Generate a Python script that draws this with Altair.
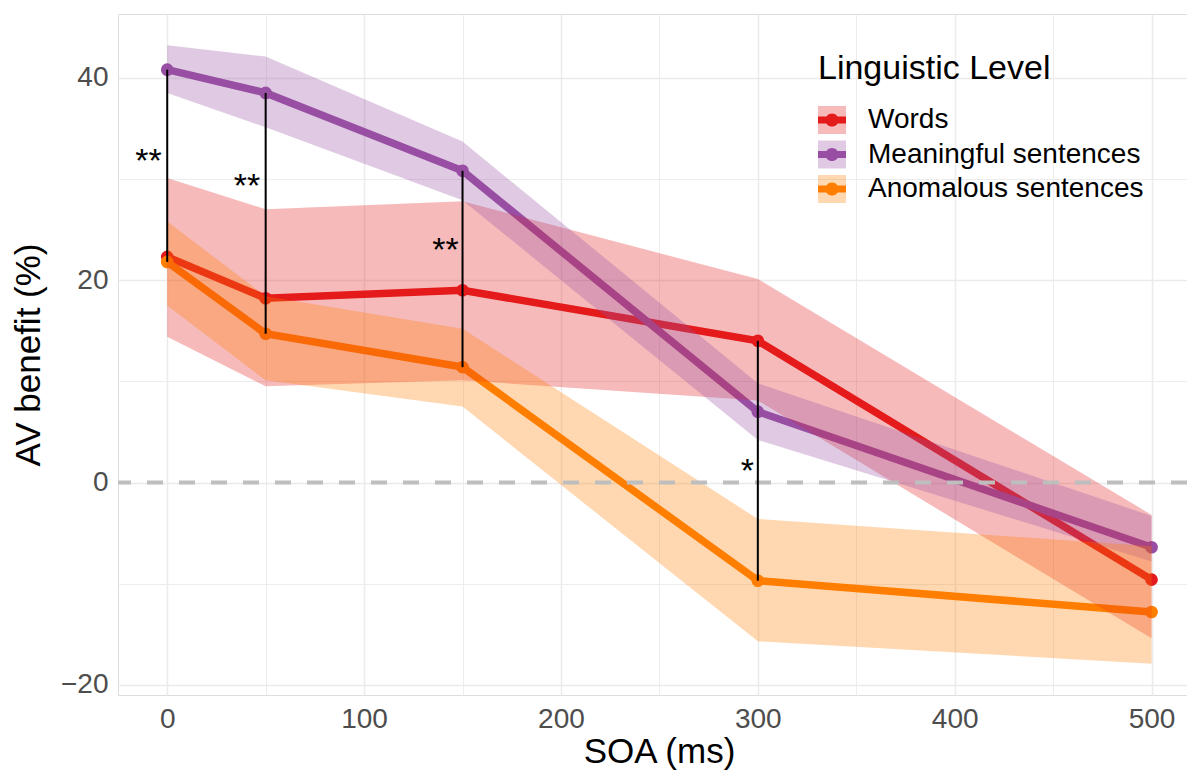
import altair as alt
import pandas as pd

# ---- data ----
levels = ["Words", "Meaningful sentences", "Anomalous sentences"]
colors = ["#E41A1C", "#984EA3", "#FF7F00"]
soa = [0, 50, 150, 300, 500]

words_mean = [22.3, 18.2, 19.0, 14.0, -9.6]
words_lo = [14.4, 9.5, 10.1, 8.1, -15.4]
words_hi = [30.1, 27.0, 27.8, 20.1, -3.2]

mean_mean = [40.8, 38.5, 30.8, 7.0, -6.4]
mean_lo = [38.5, 35.1, 27.9, 4.2, -7.8]
mean_hi = [43.2, 42.1, 33.7, 9.8, -3.3]

anom_mean = [21.8, 14.7, 11.4, -9.7, -12.8]
anom_lo = [17.5, 10.1, 7.5, -15.7, -17.9]
anom_hi = [25.8, 18.4, 15.2, -3.6, -6.3]

sig_x = [0, 50, 150, 300]
sig_top = [40.8, 38.5, 30.8, 14.0]
sig_bottom = [21.8, 14.7, 11.4, -9.7]

star_x = [-9.5, 40.5, 141.4, 294.7]
star_y = [32.6, 30.1, 23.8, 1.9]
star_label = ["**", "**", "**", "*"]

x_ticks = [0, 50, 100, 150, 200, 250, 300, 350, 400, 450, 500]
y_ticks = [-20, -10, 0, 10, 20, 30, 40]

# ---- tables ----
rows = []
for lev, col, m, lo, hi in [
    (levels[0], colors[0], words_mean, words_lo, words_hi),
    (levels[1], colors[1], mean_mean, mean_lo, mean_hi),
    (levels[2], colors[2], anom_mean, anom_lo, anom_hi),
]:
    for s, a, b, c in zip(soa, m, lo, hi):
        rows.append({"level": lev, "col": col, "soa": s, "mean": a, "lo": b, "hi": c})
df = pd.DataFrame(rows)
sig_df = pd.DataFrame({"soa": sig_x, "top": sig_top, "bottom": sig_bottom})
star_df = pd.DataFrame({"soa": star_x, "y": star_y, "label": star_label})
zero_df = pd.DataFrame({"y": [0]})

xscale = alt.Scale(domain=[-25, 518], nice=False, zero=False)
yscale = alt.Scale(domain=[-21, 46.3], nice=False, zero=False)

grid_w = {"condition": {"test": "datum.value % 100 === 0", "value": 1.5}, "value": 0.9}
grid_wy = {"condition": {"test": "datum.value % 20 === 0", "value": 1.5}, "value": 0.9}

x_axis = alt.Axis(
    values=x_ticks, labelExpr="datum.value % 100 === 0 ? datum.label : ''",
    title="SOA (ms)", grid=True, gridColor="#EBEBEB", gridWidth=grid_w,
    ticks=False, tickSize=0, domain=False, labelFontSize=28, labelColor="#4D4D4D",
    labelPadding=10, labelFont="Liberation Sans", titleFont="Liberation Sans",
    titleFontSize=35, titleFontWeight="normal", titleColor="black",
    titleX=541, titleY=67, titleBaseline="alphabetic", titleAlign="center",
)
y_axis = alt.Axis(
    values=y_ticks, labelExpr="datum.value % 20 === 0 ? datum.label : ''",
    title="AV benefit (%)", grid=True, gridColor="#EBEBEB", gridWidth=grid_wy,
    ticks=False, tickSize=0, domain=False, labelFontSize=28, labelColor="#4D4D4D",
    labelPadding=10, labelFont="Liberation Sans", titleFont="Liberation Sans",
    titleFontSize=35, titleFontWeight="normal", titleColor="black",
    titleX=-79, titleY=340.5, titleAngle=-90, titleBaseline="alphabetic",
    titleAlign="center",
)

sym_path = ("M -1 -0.25 L 1 -0.25 L 1 0.25 L -1 0.25 Z "
            "M 0.47 0 A 0.47 0.47 0 1 1 -0.47 0 A 0.47 0.47 0 1 1 0.47 0 Z")

legend_common = dict(
    orient="none", legendX=700, legendY=38, direction="vertical",
    titleFontSize=34, titleFont="Liberation Sans", titleFontWeight="normal",
    titleColor="black", titlePadding=20, titleLimit=600, labelFontSize=28,
    labelFont="Liberation Sans", labelColor="black", labelOffset=22,
    symbolSize=784, rowPadding=6.5, padding=0, labelLimit=600,
    values=levels,
)

color_legend = alt.Legend(
    title="Linguistic Level", symbolType=sym_path, symbolStrokeWidth=0,
    symbolOpacity=1, **legend_common,
)
fill_legend = alt.Legend(
    title="Linguistic Level", symbolType="square", symbolOpacity=0.3,
    symbolStrokeWidth=0, labelOpacity=0, titleOpacity=0, **legend_common,
)

# color scale for the points legend; the ribbon fill scale gets an extra unused
# domain entry so that Vega-Lite keeps the two legends apart
color_scale = alt.Scale(domain=levels, range=colors)
fill_scale = alt.Scale(domain=levels + ["~"], range=colors + ["#ffffff"])

base = alt.Chart(df)

lines = base.mark_line(strokeWidth=7.5).encode(
    x=alt.X("soa:Q", scale=xscale, axis=x_axis),
    y=alt.Y("mean:Q", scale=yscale, axis=y_axis),
    color=alt.Color("col:N", scale=None),
    order=alt.Order("soa:Q"),
)
points = base.mark_circle(size=160, opacity=1).encode(
    x=alt.X("soa:Q", scale=xscale),
    y=alt.Y("mean:Q", scale=yscale),
    color=alt.Color("level:N", scale=color_scale, legend=color_legend),
)
ribbons = base.mark_area(fillOpacity=0.3, opacity=1).encode(
    x=alt.X("soa:Q", scale=xscale),
    y=alt.Y("lo:Q", scale=yscale),
    y2="hi:Q",
    fill=alt.Fill("level:N", scale=fill_scale, legend=fill_legend),
    detail="level:N",
)
zero = alt.Chart(zero_df).mark_rule(color="#BEBEBE", strokeWidth=4, strokeDash=[16, 16]).encode(
    y=alt.Y("y:Q", scale=yscale)
)
sig = alt.Chart(sig_df).mark_rule(color="black", strokeWidth=2).encode(
    x=alt.X("soa:Q", scale=xscale),
    y=alt.Y("top:Q", scale=yscale),
    y2="bottom:Q",
)
stars = alt.Chart(star_df).mark_text(
    fontSize=34, font="Liberation Sans", color="black", baseline="alphabetic",
    align="center", dy=19,
).encode(
    x=alt.X("soa:Q", scale=xscale),
    y=alt.Y("y:Q", scale=yscale),
    text="label:N",
)

chart = alt.layer(lines, points, ribbons, zero, sig, stars).properties(
    width=1069, height=681,
    autosize=alt.AutoSizeParams(type="none"),
    padding={"left": 118, "top": 14, "right": 0, "bottom": 77},
).configure_view(stroke=None).configure(background="white")

chart.save("out.html", embed_options={"renderer": "svg", "actions": False})
